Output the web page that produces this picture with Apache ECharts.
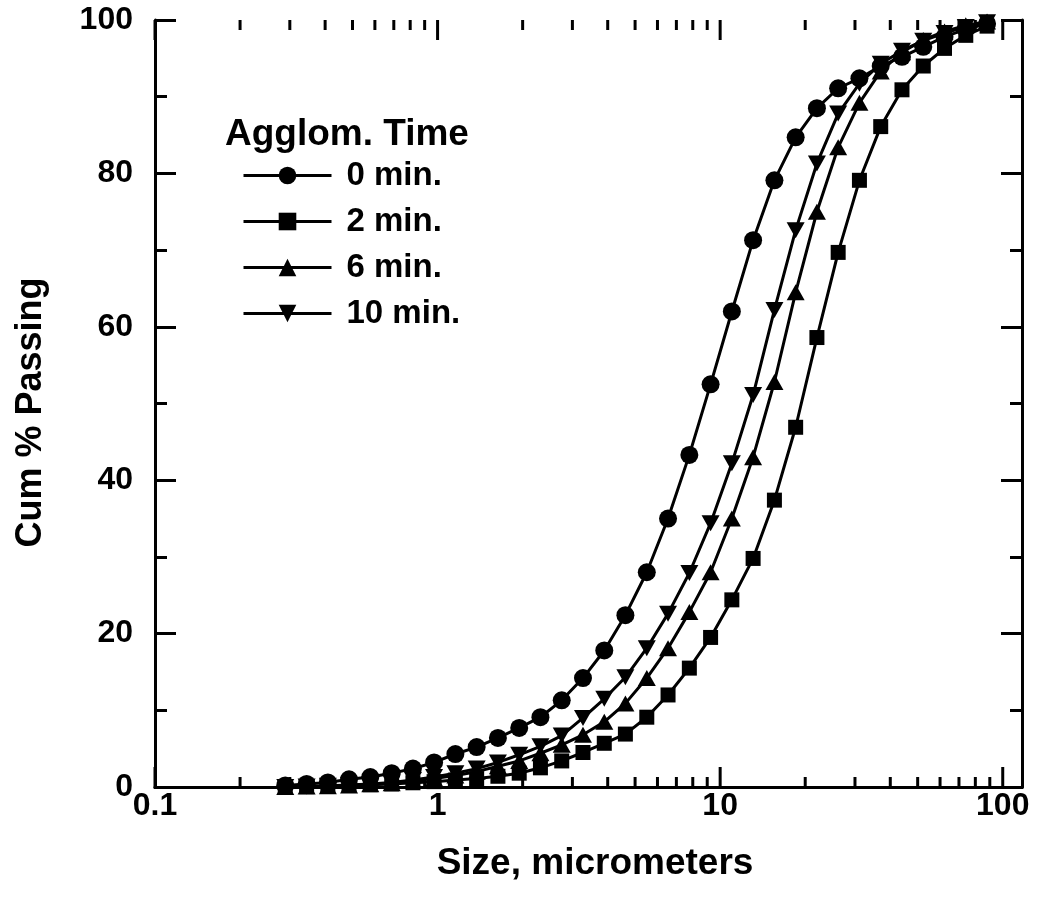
<!DOCTYPE html>
<html>
<head>
<meta charset="utf-8">
<script src="https://cdn.jsdelivr.net/npm/echarts@6/dist/echarts.min.js"></script>
<style>
  html, body { margin: 0; padding: 0; background: #ffffff; }
  #chart { width: 1038px; height: 917px; }
</style>
</head>
<body>
<div id="chart"></div>
<script>
// Particle size channels (micrometers)
const sizes = [0.289, 0.344, 0.409, 0.486, 0.578, 0.688, 0.818, 0.972, 1.156, 1.375,
               1.635, 1.945, 2.312, 2.750, 3.270, 3.890, 4.620, 5.500, 6.540, 7.780,
               9.250, 11.00, 13.08, 15.56, 18.50, 22.00, 26.16, 31.11, 37.00, 44.00,
               52.33, 62.23, 74.00, 88.00];

// Cumulative % passing for each agglomeration time
const passing0min  = [0.2, 0.4, 0.6, 1.0, 1.3, 1.8, 2.4, 3.2, 4.3, 5.2,
                      6.4, 7.7, 9.1, 11.3, 14.2, 17.8, 22.4, 28.0, 35.0, 43.3,
                      52.5, 62.0, 71.3, 79.1, 84.7, 88.5, 91.1, 92.4, 94.0, 95.2,
                      96.5, 97.8, 98.8, 99.5];
const passing2min  = [0.0, 0.05, 0.1, 0.2, 0.3, 0.4, 0.55, 0.7, 0.9, 1.1,
                      1.4, 1.8, 2.5, 3.4, 4.5, 5.7, 6.9, 9.1, 12.0, 15.5,
                      19.5, 24.4, 29.8, 37.4, 46.9, 58.6, 69.7, 79.1, 86.1, 90.9,
                      94.0, 96.3, 98.0, 99.2];
const passing6min  = [0.0, 0.05, 0.1, 0.2, 0.35, 0.5, 0.8, 1.1, 1.5, 2.0,
                      2.7, 3.4, 4.4, 5.5, 6.8, 8.5, 10.9, 14.2, 18.1, 22.8,
                      28.0, 35.0, 43.0, 52.8, 64.5, 75.0, 83.4, 89.2, 93.3, 95.8,
                      97.4, 98.5, 99.3, 99.8];
const passing10min = [0.0, 0.05, 0.15, 0.25, 0.4, 0.6, 0.9, 1.3, 1.8, 2.4,
                      3.2, 4.2, 5.3, 6.7, 9.0, 11.5, 14.3, 18.1, 22.6, 27.9,
                      34.4, 42.2, 51.1, 62.2, 72.6, 81.3, 87.8, 91.7, 94.3, 96.0,
                      97.3, 98.3, 99.1, 99.7];

const seriesNames = ['0 min.', '2 min.', '6 min.', '10 min.'];
const yTickValues = [0, 20, 40, 60, 80, 100];
const xDecadeLabels = [0.1, 1, 10, 100];
// Intermediate log-decade ticks (2..9 within each decade)
const minorSizeTicks = [0.2, 0.3, 0.4, 0.5, 0.6, 0.7, 0.8, 0.9,
                        2, 3, 4, 5, 6, 7, 8, 9,
                        20, 30, 40, 50, 60, 70, 80, 90];

const FONT = '"Liberation Sans", Arial, Helvetica, sans-serif';
const INK = '#000000';
const downTriangle = 'path://M0,0 L10,0 L5,9 Z';

function pairs(values) {
  return sizes.map((s, i) => [s, values[i]]);
}

function decadeOf(v) {
  return xDecadeLabels.find(d => Math.abs(v - d) / d < 1e-6);
}

const chart = echarts.init(document.getElementById('chart'), null, { renderer: 'canvas' });

const axisLineStyle = { color: INK, width: 3 };

const lineCommon = {
  type: 'line',
  xAxisIndex: 0,
  yAxisIndex: 0,
  smooth: false,
  showSymbol: true,
  lineStyle: { color: INK, width: 3 },
  itemStyle: { color: INK, borderWidth: 0 },
  emphasis: { disabled: true },
  animation: false,
  z: 3
};

// Log-axis tick marks along the bottom and top frame edges
function frameTicks(values) {
  return {
    type: 'custom',
    xAxisIndex: 0,
    yAxisIndex: 0,
    silent: true,
    clip: false,
    animation: false,
    data: values.map(v => [v, 0]),
    encode: { x: 0, y: 1 },
    renderItem: function (params, api) {
      const v = api.value(0);
      const len = decadeOf(v) !== undefined ? 20 : 10;
      const x = api.coord([v, 0])[0];
      const cs = params.coordSys;
      const yb = cs.y + cs.height;
      const yt = cs.y;
      return {
        type: 'group',
        children: [
          { type: 'line', shape: { x1: x, y1: yt, x2: x, y2: yt + len }, style: { stroke: INK, lineWidth: 3 } },
          { type: 'line', shape: { x1: x, y1: yb, x2: x, y2: yb - len }, style: { stroke: INK, lineWidth: 3 } }
        ]
      };
    },
    z: 2
  };
}

const option = {
  backgroundColor: '#ffffff',
  animation: false,
  title: {
    text: 'Agglom. Time',
    left: 220,
    top: 111,
    textStyle: { fontFamily: FONT, fontWeight: 'bold', fontSize: 37, color: INK }
  },
  legend: {
    data: seriesNames,
    orient: 'vertical',
    left: 237,
    top: 154,
    itemWidth: 88,
    itemHeight: 22,
    itemGap: 13,
    selectedMode: false,
    lineStyle: { width: 3 },
    textStyle: { fontFamily: FONT, fontWeight: 'bold', fontSize: 33, color: INK, padding: [0, 0, 0, 10] }
  },
  grid: { left: 155, right: 16, top: 20, bottom: 130, containLabel: false },
  xAxis: [
    {
      type: 'log',
      logBase: 10,
      min: 0.1,
      max: 117,
      position: 'bottom',
      name: 'Size, micrometers',
      nameLocation: 'middle',
      nameGap: 58,
      nameTextStyle: { fontFamily: FONT, fontWeight: 'bold', fontSize: 37, color: INK, padding: [0, 0, 0, 13] },
      axisLine: { show: true, lineStyle: axisLineStyle },
      axisTick: { show: false },
      minorTick: { show: false },
      splitLine: { show: false },
      axisLabel: {
        show: true,
        margin: 3,
        showMaxLabel: false,
        fontFamily: FONT, fontWeight: 'bold', fontSize: 32, color: INK,
        formatter: v => { const d = decadeOf(v); return d !== undefined ? String(d) : ''; }
      }
    },
    {
      type: 'log',
      logBase: 10,
      min: 0.1,
      max: 117,
      position: 'top',
      axisLine: { show: true, lineStyle: axisLineStyle },
      axisTick: { show: false },
      axisLabel: { show: false },
      splitLine: { show: false }
    }
  ],
  yAxis: [
    {
      type: 'value',
      min: 0,
      max: 100,
      interval: 20,
      position: 'left',
      name: 'Cum % Passing',
      nameLocation: 'middle',
      nameGap: 106,
      nameTextStyle: { fontFamily: FONT, fontWeight: 'bold', fontSize: 36, color: INK, padding: [0, 18, 0, 0] },
      axisLine: { show: true, lineStyle: axisLineStyle },
      axisTick: { show: true, inside: true, length: 21, lineStyle: { color: INK, width: 3 } },
      minorTick: { show: true, splitNumber: 2, length: 12, lineStyle: { color: INK, width: 3 } },
      splitLine: { show: false },
      axisLabel: {
        margin: 22,
        fontFamily: FONT, fontWeight: 'bold', fontSize: 32, color: INK,
        verticalAlign: 'middle',
        formatter: v => (yTickValues.includes(v) ? String(v) : '')
      }
    },
    {
      type: 'value',
      min: 0,
      max: 100,
      interval: 20,
      position: 'right',
      axisLine: { show: true, lineStyle: axisLineStyle },
      axisTick: { show: true, inside: true, length: 21, lineStyle: { color: INK, width: 3 } },
      minorTick: { show: true, splitNumber: 2, length: 12, lineStyle: { color: INK, width: 3 } },
      splitLine: { show: false },
      axisLabel: { show: false }
    }
  ],
  series: [
    Object.assign({}, lineCommon, { name: seriesNames[0], symbol: 'circle', symbolSize: 18, data: pairs(passing0min) }),
    Object.assign({}, lineCommon, { name: seriesNames[1], symbol: 'rect', symbolSize: 15, data: pairs(passing2min) }),
    Object.assign({}, lineCommon, { name: seriesNames[2], symbol: 'triangle', symbolSize: [18, 16], data: pairs(passing6min) }),
    Object.assign({}, lineCommon, { name: seriesNames[3], symbol: downTriangle, symbolSize: [18, 16], data: pairs(passing10min) }),
    frameTicks(minorSizeTicks),
    frameTicks(xDecadeLabels)
  ]
};

chart.setOption(option);
</script>
</body>
</html>
